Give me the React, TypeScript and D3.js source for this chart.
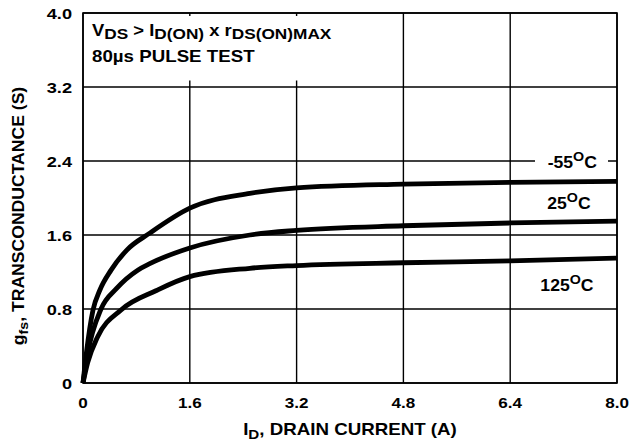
import * as d3 from 'd3';
import React from 'react';

// gfs vs ID
const xTicks = [0, 1.6, 3.2, 4.8, 6.4, 8.0];
const xTickLabels = ['0', '1.6', '3.2', '4.8', '6.4', '8.0'];
const yTicks = [0, 0.8, 1.6, 2.4, 3.2, 4.0];
const yTickLabels = ['0', '0.8', '1.6', '2.4', '3.2', '4.0'];

const curveM55: [number, number][] = [
    [0, 0], [0.05, 0.32], [0.15, 0.79], [0.25, 1.0], [0.42, 1.22], [0.66, 1.44],
    [1.0, 1.62], [1.6, 1.89], [2.5, 2.05], [3.2, 2.11], [4.8, 2.15], [6.4, 2.17], [8.0, 2.18],
];
const curve25: [number, number][] = [
    [0, 0], [0.07, 0.32], [0.27, 0.8], [0.5, 1.02], [0.82, 1.22], [1.0, 1.29],
    [1.6, 1.46], [2.5, 1.6], [3.2, 1.65], [4.8, 1.7], [6.4, 1.73], [8.0, 1.75],
];
const curve125: [number, number][] = [
    [0, 0], [0.07, 0.22], [0.22, 0.5], [0.57, 0.79], [1.1, 1.0],
    [1.6, 1.15], [2.5, 1.24], [3.2, 1.27], [4.8, 1.3], [6.4, 1.32], [8.0, 1.35],
];

const curveNames = ['-55', '25', '125'];
const curveLabelPos: [number, number][] = [[7.33, 2.4], [7.28, 1.96], [7.25, 1.07]];

// text that is a bit wider than the font, like the scanned sheet
function Wide(props: { x: number; y: number; sx: number; size: number; anchor?: string; rotate?: number; children: React.ReactNode }) {
    const { x, y, sx, size, anchor, rotate, children } = props;
    const t = `translate(${x},${y})` + (rotate ? ` rotate(${rotate})` : '') + ` scale(${sx},1)`;
    return (
        <text transform={t} fontSize={size} textAnchor={anchor ?? 'start'}>{children}</text>
    );
}

export default function App() {
    const left = 83, right = 617, top = 13, bottom = 383;
    const x = d3.scaleLinear().domain([0, 8]).range([left, right]);
    const y = d3.scaleLinear().domain([0, 4]).range([bottom, top]);
    const line = d3.line<[number, number]>()
        .x(d => x(d[0]))
        .y(d => y(d[1]))
        .curve(d3.curveMonotoneX);
    const font = '"Liberation Sans", Arial, sans-serif';
    const curves = [curveM55, curve25, curve125];

    return (
        <svg width={633} height={447} style={{ display: 'block', position: 'absolute', left: 0, top: 0 }}
            fontFamily={font} fontWeight="bold">
            <rect width={633} height={447} fill="white" />
            {/* grid */}
            {xTicks.map(t => (
                <line key={'gx' + t} x1={x(t)} x2={x(t)} y1={top} y2={bottom} stroke="black" strokeWidth={1.4} />
            ))}
            {yTicks.map(t => (
                <line key={'gy' + t} x1={left} x2={right} y1={y(t)} y2={y(t)} stroke="black" strokeWidth={1.4} />
            ))}
            {/* note box blanks the grid */}
            <rect x={left + 1.5} y={top + 3} width={x(4.1) - left} height={y(3.2) - top - 9.5} fill="white" />
            <rect x={left} y={top} width={right - left} height={bottom - top} fill="none" stroke="black" strokeWidth={1.6} />
            <Wide x={92} y={36} sx={1.15} size={16}>
                V<tspan fontSize={15} dy={3}>DS</tspan>
                <tspan dy={-3}> &gt; I</tspan><tspan fontSize={15} dy={3}>D(ON)</tspan>
                <tspan dy={-3}> x r</tspan><tspan fontSize={15} dy={3}>DS(ON)MAX</tspan>
            </Wide>
            <Wide x={92} y={62} sx={1.17} size={16}>80µs PULSE TEST</Wide>
            {/* curves */}
            {curves.map((c, i) => (
                <path key={'c' + i} d={line(c) ?? ''} fill="none" stroke="black" strokeWidth={4.8} strokeLinejoin="round" />
            ))}
            {/* curve labels */}
            {curveNames.map((n, i) => {
                const [cx, cy] = curveLabelPos[i];
                return (
                    <g key={'l' + n}>
                        {i === 0 && <rect x={535} y={y(cy) - 10} width={73} height={20} fill="white" />}
                        <Wide x={x(cx)} y={y(cy) + 7} sx={1.1} size={16} anchor="middle">
                            {n}<tspan fontSize={13} dy={-7}>O</tspan><tspan dy={7}>C</tspan>
                        </Wide>
                    </g>
                );
            })}
            {/* tick labels */}
            {xTicks.map((t, i) => (
                <Wide key={'tx' + t} x={x(t)} y={bottom + 25} sx={1.22} size={14} anchor="middle">{xTickLabels[i]}</Wide>
            ))}
            {yTicks.map((t, i) => (
                <Wide key={'ty' + t} x={72} y={y(t) + 5.5} sx={1.3} size={14} anchor="end">{yTickLabels[i]}</Wide>
            ))}
            {/* axis titles */}
            <Wide x={x(4)} y={435} sx={1.17} size={16} anchor="middle">
                I<tspan fontSize={13} dy={4}>D</tspan><tspan dy={-4}>, DRAIN CURRENT (A)</tspan>
            </Wide>
            <Wide x={24} y={216} rotate={-90} sx={1.1} size={16} anchor="middle">
                g<tspan fontSize={13} dy={4}>fs</tspan><tspan dy={-4}>, TRANSCONDUCTANCE (S)</tspan>
            </Wide>
        </svg>
    );
}
